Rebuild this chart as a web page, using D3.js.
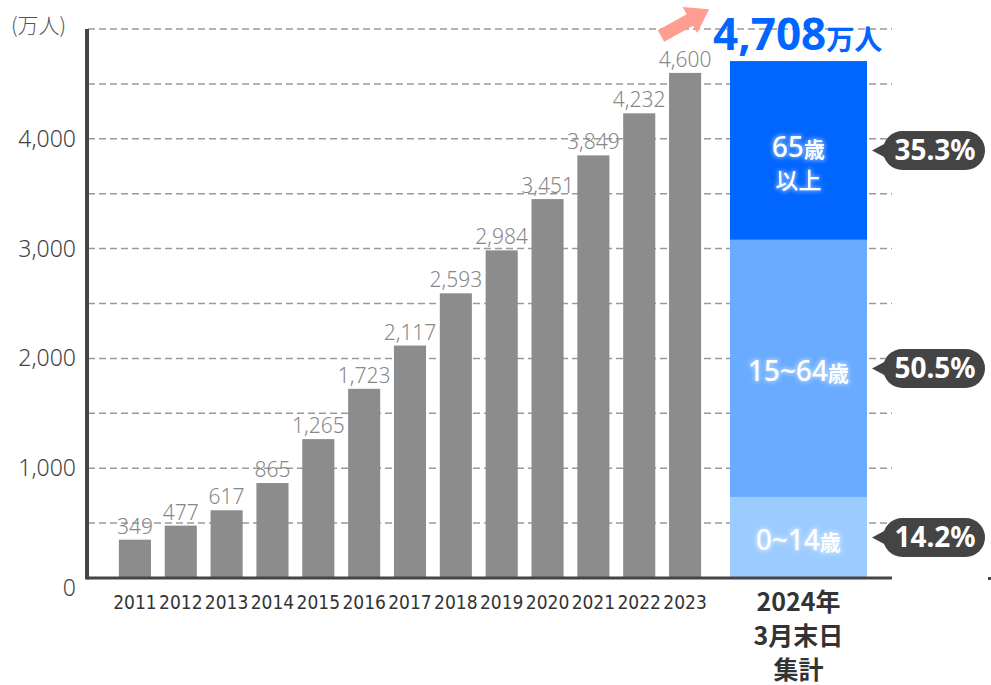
<!DOCTYPE html>
<html><head><meta charset="utf-8">
<script src="https://cdn.jsdelivr.net/npm/d3@7"></script>
<style>
html,body{margin:0;padding:0;background:#fff;}
svg{display:block;}
</style></head>
<body>
<svg id="chart" width="991" height="685"></svg>
<script>
// ---- data ----
const years = ["2011","2012","2013","2014","2015","2016","2017","2018","2019","2020","2021","2022","2023"];
const users = [349,477,617,865,1265,1723,2117,2593,2984,3451,3849,4232,4600];
const stackCategory = ["2024"];
const segNames = ["0~14歳","15~64歳","65歳|以上"];
const segValues = [738, 2342, 1628];
const segShares = ["14.2%","50.5%","35.3%"];
const totalValue = ["4,708","万人"];
const yTicks = [0,1000,2000,3000,4000];
const gridTicks = [500,1000,1500,2000,2500,3000,3500,4000,4500,5000];
const unitLabel = "(万人)";
const stackLabel = ["2024年","3月末日","集計"];

// ---- styles ----
const segColors = ["#9ccbff","#69abff","#0066ff"];
const barColor = "#8c8c8c";
const axisColor = "#454545";

const svg = d3.select("#chart");
const defs = svg.append("defs");
const glow = defs.append("filter").attr("id","glow").attr("x","-20%").attr("y","-40%").attr("width","140%").attr("height","180%");
glow.append("feMorphology").attr("in","SourceAlpha").attr("operator","dilate").attr("radius",1.2).attr("result","d");
glow.append("feGaussianBlur").attr("in","d").attr("stdDeviation",2.2).attr("result","b");
glow.append("feFlood").attr("flood-color","#ffffff").attr("flood-opacity",0.45);
glow.append("feComposite").attr("in2","b").attr("operator","in").attr("result","g");
const gm = glow.append("feMerge");
gm.append("feMergeNode").attr("in","g");
gm.append("feMergeNode").attr("in","SourceGraphic");

const y = d3.scaleLinear().domain([0,5000]).range([578,29]);
const x = d3.scaleBand().domain(years).range([112,708]).paddingInner(0.3).paddingOuter(0.15);
const x2 = d3.scaleBand().domain(stackCategory).range([730,867]);

// gridlines
svg.append("g").selectAll("line").data(gridTicks).join("line")
  .attr("x1",88).attr("x2",892)
  .attr("y1",d=>y(d)).attr("y2",d=>y(d))
  .attr("stroke","#9a9a9a").attr("stroke-width",1.5).attr("stroke-dasharray","7,4");

// bars
svg.append("g").selectAll("rect").data(users).join("rect")
  .attr("x",(d,i)=>x(years[i])).attr("width",x.bandwidth())
  .attr("y",d=>y(d)).attr("height",d=>y(0)-y(d))
  .attr("fill",barColor);

// value labels
svg.append("g").selectAll("text").data(users).join("text")
  .attr("x",(d,i)=>x(years[i])+x.bandwidth()/2)
  .attr("y",d=>y(d)-6)
  .attr("text-anchor","middle")
  .attr("font-family","'Noto Sans',sans-serif").attr("font-weight",300)
  .attr("font-size",21).attr("fill","#888")
  .text(d=>d3.format(",")(d));

// stacked bar
const stacked = [];
let acc = 0;
segValues.forEach((v,i)=>{ stacked.push({y0:acc,y1:acc+v,i}); acc+=v; });
const sg = svg.append("g");
sg.selectAll("rect").data(stacked).join("rect")
  .attr("x",x2("2024")).attr("width",x2.bandwidth())
  .attr("y",d=>y(d.y1)).attr("height",d=>y(d.y0)-y(d.y1))
  .attr("fill",d=>segColors[d.i]);

// segment labels
const cx = x2("2024")+x2.bandwidth()/2;
stacked.forEach(d=>{
  const mid = (y(d.y0)+y(d.y1))/2;
  const lines = segNames[d.i].split("|");
  const startY = lines.length>1 ? mid+7 : mid+13;
  lines.forEach((ln,k)=>{
    const t = sg.append("text").attr("x",cx).attr("y",startY+k*32)
      .attr("text-anchor","middle").attr("fill","#fff")
      .attr("font-family","'Noto Sans','Noto Sans CJK JP',sans-serif")
      .attr("filter","url(#glow)");
    if (ln.endsWith("歳")) {
      t.append("tspan").attr("font-size",28).attr("font-weight",500).text(ln.slice(0,-1));
      t.append("tspan").attr("font-size",21).attr("font-family","'Noto Sans CJK JP',sans-serif").attr("font-weight",700).text("歳");
    } else {
      t.attr("font-size",23).attr("font-family","'Noto Sans CJK JP',sans-serif").attr("font-weight",500).text(ln);
    }
  });
});

// callouts
const cg = svg.append("g");
stacked.forEach(d=>{
  const mid = (y(d.y0)+y(d.y1))/2;
  const px = 883, pw = 102, ph = 39;
  cg.append("path")
    .attr("d",`M${px+4},${mid-8} L${px-11},${mid} L${px+4},${mid+8} Z`)
    .attr("fill","#444");
  cg.append("rect").attr("x",px).attr("y",mid-ph/2).attr("width",pw).attr("height",ph)
    .attr("rx",ph/2).attr("fill","#444");
  cg.append("text").attr("x",px+pw/2+1).attr("y",mid+10)
    .attr("text-anchor","middle").attr("fill","#fff")
    .attr("font-family","'Noto Sans',sans-serif").attr("font-weight",700).attr("font-size",28)
    .text(segShares[d.i]);
});

// axes lines
svg.append("line").attr("x1",87).attr("x2",892).attr("y1",y(0)).attr("y2",y(0))
  .attr("stroke",axisColor).attr("stroke-width",3);
svg.append("line").attr("x1",87).attr("x2",87).attr("y1",y(5000)).attr("y2",y(0)+1.5)
  .attr("stroke",axisColor).attr("stroke-width",4);
svg.append("rect").attr("x",988).attr("y",y(0)-1).attr("width",3).attr("height",3).attr("fill",axisColor);

// y tick labels
svg.append("g").selectAll("text").data(yTicks).join("text")
  .attr("x",76).attr("y",d=>d===0? y(d)+18 : y(d)+8)
  .attr("text-anchor","end")
  .attr("font-family","'Noto Sans',sans-serif").attr("font-weight",300)
  .attr("font-size",23).attr("fill","#444")
  .text(d=>d3.format(",")(d));

svg.append("text").attr("x",11).attr("y",33)
  .attr("font-family","'Noto Sans CJK JP',sans-serif").attr("font-weight",300)
  .attr("font-size",21).attr("fill","#555").text(unitLabel);

// x labels
svg.append("g").selectAll("text").data(years).join("text")
  .attr("x",d=>x(d)+x.bandwidth()/2).attr("y",609)
  .attr("text-anchor","middle")
  .attr("font-family","'Liberation Sans Narrow','DejaVu Sans Condensed',sans-serif")
  .attr("font-size",19).attr("fill","#333")
  .text(d=>d);

svg.append("g").selectAll("text").data(stackLabel).join("text")
  .attr("x",cx).attr("y",(d,i)=>611+i*34)
  .attr("text-anchor","middle")
  .attr("font-family","'Noto Sans CJK JP',sans-serif").attr("font-weight",700)
  .attr("font-size",25).attr("fill","#333")
  .text(d=>d);

// total label
const tt = svg.append("text").attr("x",713).attr("y",50)
  .attr("fill","#0066ff").attr("font-weight",700)
  .attr("font-family","'Noto Sans',sans-serif");
tt.append("tspan").attr("font-size",44).text(totalValue[0]);
tt.append("tspan").attr("font-size",28).attr("font-family","'Noto Sans CJK JP',sans-serif").text(totalValue[1]);

// arrow
const ax0 = 661, ay0 = 36, ang = -29;
svg.append("path")
  .attr("transform",`translate(${ax0},${ay0}) rotate(${ang})`)
  .attr("d","M0,-6.5 L33,-6.5 L33,-15 L55,0 L33,15 L33,6.5 L0,6.5 Z")
  .attr("fill","#ff9d90");
</script>
</body></html>
